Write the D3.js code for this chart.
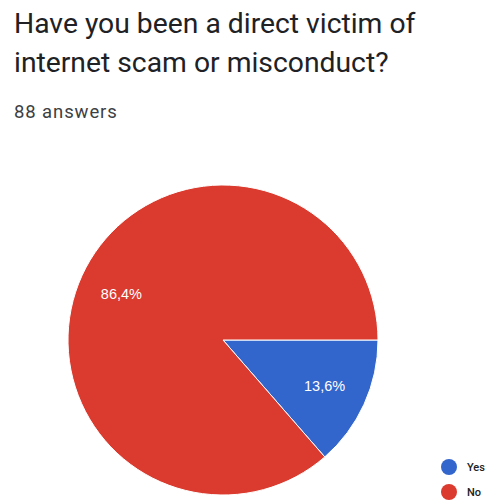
<!DOCTYPE html>
<html>
<head>
<meta charset="utf-8">
<script src="https://cdn.jsdelivr.net/npm/d3@7"></script>
<style>
  html, body { margin: 0; padding: 0; background: #fff; }
  svg { display: block; }
</style>
</head>
<body>
<div id="chart"></div>
<script>
// Survey answers
const categories = ["Yes", "No"];
const percentages = [13.6, 86.4];
const colors = ["#3366cc", "#db3a2e"];
const titleLines = ["Have you been a direct victim of", "internet scam or misconduct?"];
const subtitle = "88 answers";

const W = 492, H = 504;
const svg = d3.select("#chart").append("svg").attr("width", W).attr("height", H);

// Title and response count
svg.selectAll("text.title").data(titleLines).join("text")
  .attr("class", "title")
  .attr("x", 14)
  .attr("y", (d, i) => 33 + i * 39)
  .attr("font-family", "Roboto, 'Open Sans', sans-serif")
  .attr("font-size", 28.3)
  .attr("fill", "#202124")
  .text(d => d);

svg.append("text")
  .attr("x", 14).attr("y", 118)
  .attr("font-family", "Roboto, sans-serif")
  .attr("font-size", 18.5)
  .attr("letter-spacing", 0.9)
  .attr("fill", "#3c4043")
  .text(subtitle);

// Pie: first slice starts at 3 o'clock and runs clockwise
const cx = 223, cy = 340, r = 155;
const data = categories.map((c, i) => ({ label: c, value: percentages[i], color: colors[i] }));
const pie = d3.pie().value(d => d.value).sort(null)
  .startAngle(Math.PI / 2).endAngle(Math.PI / 2 + 2 * Math.PI);
const arcs = pie(data);
const arc = d3.arc().innerRadius(0).outerRadius(r);
const labelArc = d3.arc().innerRadius(r * 0.72).outerRadius(r * 0.72);

const g = svg.append("g").attr("transform", `translate(${cx},${cy})`);
g.selectAll("path").data(arcs).join("path")
  .attr("d", arc)
  .attr("fill", d => d.data.color)
  .attr("stroke", "#fff")
  .attr("stroke-width", 1);

const fmt = v => v.toFixed(1).replace(".", ",") + "%";
g.selectAll("text").data(arcs).join("text")
  .attr("transform", d => `translate(${labelArc.centroid(d)})`)
  .attr("text-anchor", "middle")
  .attr("dy", "0.35em")
  .attr("font-family", "Arial, 'Liberation Sans', sans-serif")
  .attr("font-size", 14.5)
  .attr("fill", "#fff")
  .text(d => fmt(d.data.value));

// Legend
const legend = svg.append("g").attr("transform", "translate(449,467)");
const items = legend.selectAll("g").data(data).join("g")
  .attr("transform", (d, i) => `translate(0,${i * 25})`);
items.append("circle").attr("r", 8).attr("fill", d => d.color);
items.append("text")
  .attr("x", 18).attr("dy", "0.35em")
  .attr("font-family", "Roboto, sans-serif")
  .attr("font-size", 11)
  .attr("font-weight", 500)
  .attr("fill", "#222")
  .text(d => d.label);
</script>
</body>
</html>
